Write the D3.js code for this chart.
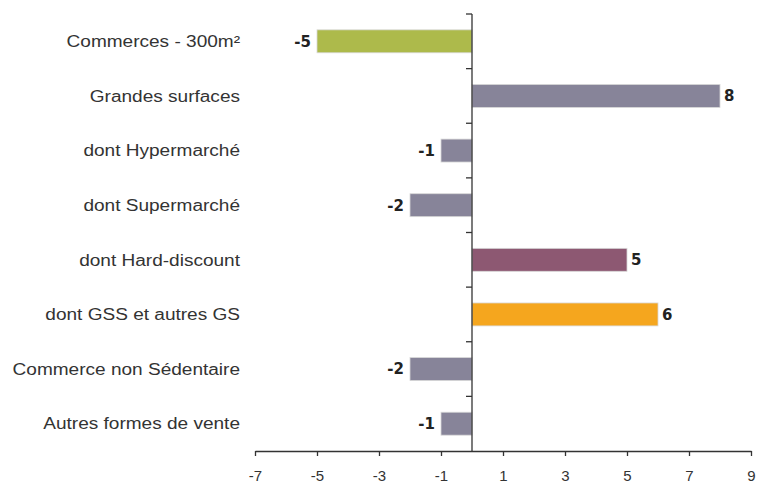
<!DOCTYPE html>
<html>
<head>
<meta charset="utf-8">
<script src="https://cdn.jsdelivr.net/npm/d3@7"></script>
<style>
  body { margin: 0; background: #fff; }
  svg { display: block; }
  .cat { font-family: "Liberation Sans", Arial, sans-serif; font-size: 16px; fill: #333; }
  .tick text { font-family: "Liberation Sans", Arial, sans-serif; font-size: 15px; fill: #333; }
  .val { font-family: "DejaVu Sans", sans-serif; font-weight: bold; font-size: 15px; fill: #222; }
</style>
</head>
<body>
<div id="main"></div>
<script>
var categories = ["Commerces - 300m\u00b2", "Grandes surfaces", "dont Hypermarch\u00e9", "dont Supermarch\u00e9",
                  "dont Hard-discount", "dont GSS et autres GS", "Commerce non S\u00e9dentaire", "Autres formes de vente"];
var values = [-5, 8, -1, -2, 5, 6, -2, -1];
var barColors = ["#adba4b", "#878499", "#878499", "#878499", "#8d5872", "#f5a61e", "#878499", "#878499"];
var xTicks = [-7, -5, -3, -1, 1, 3, 5, 7, 9];

var width = 764, height = 484;
var margin = {top: 14, left: 255, right: 13, bottom: 33};

var svg = d3.select('#main')
    .append('svg')
    .attr("width", width)
    .attr("height", height);

var x = d3.scaleLinear()
    .domain([-7, 9])
    .range([margin.left, width - margin.right]);

var y = d3.scaleBand()
    .domain(categories)
    .range([margin.top, height - margin.bottom])
    .paddingInner(0.58)
    .paddingOuter(0.29);

// bars
svg.selectAll(".bar")
    .data(values)
    .enter().append("rect")
    .attr("class", "bar")
    .attr("x", function(d) { return x(Math.min(0, d)); })
    .attr("y", function(d, i) { return y(categories[i]); })
    .attr("width", function(d) { return Math.abs(x(d) - x(0)); })
    .attr("height", y.bandwidth())
    .attr("fill", function(d, i) { return barColors[i]; })
    .attr("stroke", "#d8d8d8")
    .attr("stroke-width", 0.8);

// value labels (hyphen minus like the original)
svg.selectAll(".val")
    .data(values)
    .enter().append("text")
    .attr("class", "val")
    .attr("x", function(d) { return d < 0 ? x(d) - 6 : x(d) + 4; })
    .attr("y", function(d, i) { return y(categories[i]) + y.bandwidth() / 2; })
    .attr("dy", "0.36em")
    .attr("text-anchor", function(d) { return d < 0 ? "end" : "start"; })
    .text(function(d) { return String(d); });

// category labels, stretched horizontally a bit like the source
var labelRight = 240, stretch = 1.19;
svg.selectAll(".cat")
    .data(categories)
    .enter().append("text")
    .attr("class", "cat")
    .attr("transform", function(d) {
        return "translate(" + labelRight + "," + (y(d) + y.bandwidth() / 2) + ") scale(" + stretch + ",1)";
    })
    .attr("dy", "0.36em")
    .attr("text-anchor", "end")
    .text(function(d) { return d; });

// x axis
var xAxis = svg.append("g")
    .attr("transform", "translate(0," + (height - margin.bottom) + ")")
    .call(d3.axisBottom(x).tickValues(xTicks)
        .tickFormat(function(d) { return String(d); })
        .tickSize(5).tickPadding(14).tickSizeOuter(0));
xAxis.select(".domain").attr("stroke", "#333").attr("stroke-width", 1.3);
xAxis.selectAll(".tick line").attr("stroke", "#333").attr("stroke-width", 1.3);

// vertical axis at zero with ticks between categories
var yTop = margin.top, yBot = height - margin.bottom;
var step = (yBot - yTop) / categories.length;
svg.append("line")
    .attr("x1", x(0)).attr("x2", x(0))
    .attr("y1", yTop).attr("y2", yBot)
    .attr("stroke", "#333").attr("stroke-width", 1.3);
svg.selectAll(".ytick")
    .data(d3.range(categories.length))
    .enter().append("line")
    .attr("class", "ytick")
    .attr("x1", x(0) - 6).attr("x2", x(0))
    .attr("y1", function(i) { return yTop + i * step; })
    .attr("y2", function(i) { return yTop + i * step; })
    .attr("stroke", "#333").attr("stroke-width", 1.3);
</script>
</body>
</html>
